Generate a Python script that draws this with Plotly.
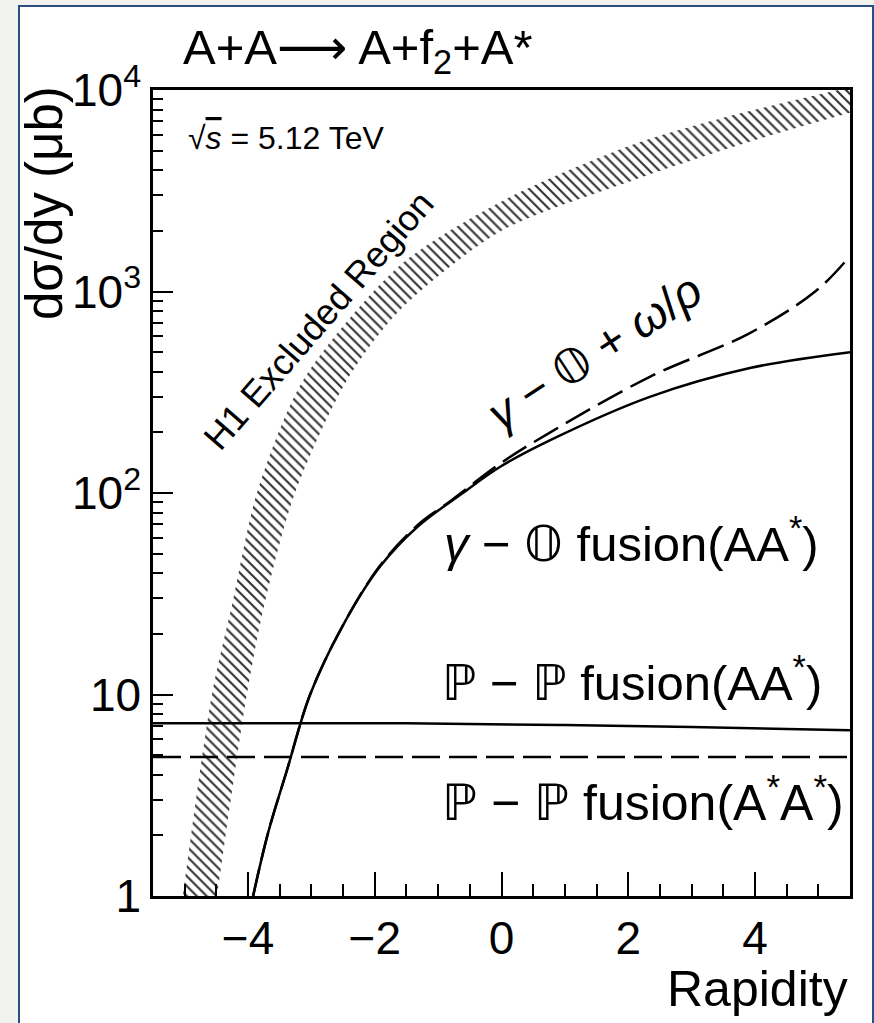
import plotly.graph_objects as go

# H1 excluded region: left/upper edge and right/lower edge of the hatched band
band_upper_x = [-5.03, -4.57, -4.24, -3.86, -3.13, -1.60, 0.0, 2.08, 3.80, 5.50]
band_upper_y = [1.0, 10.0, 29.0, 100.0, 363.0, 1350.0, 2800.0, 5360.0, 7700.0, 10300.0]
band_lower_x = [-4.49, -4.02, -3.73, -3.26, -2.44, -1.60, 0.0, 2.08, 3.80, 5.50]
band_lower_y = [1.0, 10.0, 29.0, 100.0, 363.0, 810.0, 2000.0, 3570.0, 5400.0, 7700.0]

# gamma - O fusion (AA*), solid
gof_x = [-3.92, -3.685, -3.385, -3.02, -2.50, -1.92, -1.33, -0.61, -0.02, 0.77, 2.34, 3.92, 5.50]
gof_y = [1.0, 2.05, 4.22, 10.0, 22.1, 43.0, 67.8, 100.0, 135.0, 183.0, 300.0, 417.0, 500.0]

# gamma - O + omega/rho, dashed
gor_x = [-3.92, -3.685, -3.385, -3.02, -2.50, -1.92, -1.33, -0.81, -0.02, 0.77, 2.34, 3.92, 4.98, 5.50]
gor_y = [1.0, 2.05, 4.22, 10.0, 22.1, 43.5, 69.0, 91.0, 140.0, 200.0, 377.0, 622.0, 1017.0, 1500.0]

# P - P fusion (AA*), solid; P - P fusion (A*A*), dashed
pp_x = [-5.5, -1.5, 1.0, 3.0, 5.5]
pp_y = [7.2, 7.2, 7.05, 6.9, 6.65]
ppss_x = [-5.5, 5.5]
ppss_y = [4.9, 4.9]

x_ticks = [-4, -2, 0, 2, 4]
y_ticks = [1, 10, 100, 1000, 10000]
y_ticktext = ["1", "10", "10<sup>2</sup>", "10<sup>3</sup>", "10<sup>4</sup>"]

FONT = "Liberation Sans, Arial, Helvetica, DejaVu Sans, sans-serif"
W, H = 874, 1023
L, R, T, B = 153, 24, 90, 127


def px_x(p):
    return (p - L) / (W - L - R)


def px_y(p):
    return (H - B - p) / (H - T - B)


fig = go.Figure()

# band: lower edge first (invisible), then upper edge filled down to it with hatching
fig.add_trace(go.Scatter(
    x=band_lower_x, y=band_lower_y, mode="lines",
    line=dict(width=0, shape="spline", smoothing=0.8), hoverinfo="skip",
))
fig.add_trace(go.Scatter(
    x=band_upper_x, y=band_upper_y, mode="lines",
    line=dict(width=0, shape="spline", smoothing=0.8),
    fill="tonexty", fillcolor="white",
    fillpattern=dict(shape="\\", size=7, solidity=0.3, fgcolor="#333333", bgcolor="white", fillmode="replace"),
    hoverinfo="skip",
))
fig.add_trace(go.Scatter(x=pp_x, y=pp_y, mode="lines",
                         line=dict(color="black", width=2.5, shape="spline")))
fig.add_trace(go.Scatter(x=ppss_x, y=ppss_y, mode="lines",
                         line=dict(color="black", width=2.5, dash="28px,9px")))
fig.add_trace(go.Scatter(x=gof_x, y=gof_y, mode="lines",
                         line=dict(color="black", width=2.5, shape="spline")))
fig.add_trace(go.Scatter(x=gor_x, y=gor_y, mode="lines",
                         line=dict(color="black", width=2.5, shape="spline", dash="28px,9px")))

ann = [
    dict(text="A+A<span style='font-family:DejaVu Sans'>⟶</span> A+f<sub>2</sub>+A*",
         x=px_x(181), y=px_y(50), xanchor="left", yanchor="middle", size=49),
    dict(text="√<span style='text-decoration:overline'><i>s</i></span> = 5.12 TeV",
         x=px_x(186), y=px_y(138), xanchor="left", yanchor="middle", size=32),
    dict(text="Rapidity", x=1.0, y=px_y(989), xanchor="right", yanchor="middle", size=50),
    dict(text="dσ/dy (μb)", x=px_x(44), y=px_y(84), xanchor="center", yanchor="top", size=51, angle=-90),
    dict(text="H1 Excluded Region", x=px_x(318), y=px_y(320), xanchor="center", yanchor="middle", size=36, angle=-49),
    dict(text="<i>γ</i> − 𝕆 + <i>ω</i>/<i>ρ</i>", x=px_x(594), y=px_y(351), xanchor="center", yanchor="middle", size=47, angle=-33),
    dict(text="<i>γ</i> − 𝕆 fusion(AA<sup>*</sup>)", x=px_x(821), y=px_y(540), xanchor="right", yanchor="middle", size=49),
    dict(text="ℙ − ℙ fusion(AA<sup>*</sup>)", x=px_x(824), y=px_y(679), xanchor="right", yanchor="middle", size=49),
    dict(text="ℙ − ℙ fusion(A<sup>*</sup>A<sup>*</sup>)", x=px_x(846), y=px_y(799), xanchor="right", yanchor="middle", size=50),
]
for a in ann:
    fig.add_annotation(
        text=a["text"], x=a["x"], y=a["y"], xref="paper", yref="paper",
        xanchor=a["xanchor"], yanchor=a["yanchor"], showarrow=False,
        textangle=a.get("angle", 0), font=dict(family=FONT, size=a["size"], color="black"),
    )

# outer frame of the figure panel
fig.add_shape(type="rect", xref="paper", yref="paper", layer="below",
              x0=px_x(19), x1=px_x(873), y0=px_y(H + 20), y1=px_y(6),
              fillcolor="white", line=dict(color="#2b4d82", width=2))

minor_y = [m * 10 ** d for d in range(4) for m in range(2, 10)]

fig.update_layout(
    width=W, height=H,
    margin=dict(l=L, r=R, t=T, b=B),
    paper_bgcolor="#f2f2ee", plot_bgcolor="white",
    showlegend=False,
    font=dict(family=FONT, size=46, color="black"),
    xaxis=dict(
        range=[-5.5, 5.5], tickmode="array", tickvals=x_ticks,
        ticks="inside", ticklen=24, tickwidth=2, tickcolor="black",
        minor=dict(dtick=0.5, tick0=0, ticks="inside", ticklen=12, tickwidth=2, tickcolor="black", showgrid=False),
        showline=True, linecolor="black", linewidth=2.5, mirror=True,
        showgrid=False, zeroline=False, tickfont=dict(size=46),
    ),
    yaxis=dict(
        type="log", range=[0, 4], tickmode="array", tickvals=y_ticks, ticktext=y_ticktext,
        ticks="inside", ticklen=20, tickwidth=2, tickcolor="black",
        minor=dict(tickmode="array", tickvals=minor_y, ticks="inside", ticklen=10, tickwidth=2,
                   tickcolor="black", showgrid=False),
        showline=True, linecolor="black", linewidth=2.5, mirror=True,
        showgrid=False, zeroline=False, tickfont=dict(size=46),
    ),
)

fig.write_html("out.html", config={"displayModeBar": False},
               post_script="document.body.style.margin='0';")
